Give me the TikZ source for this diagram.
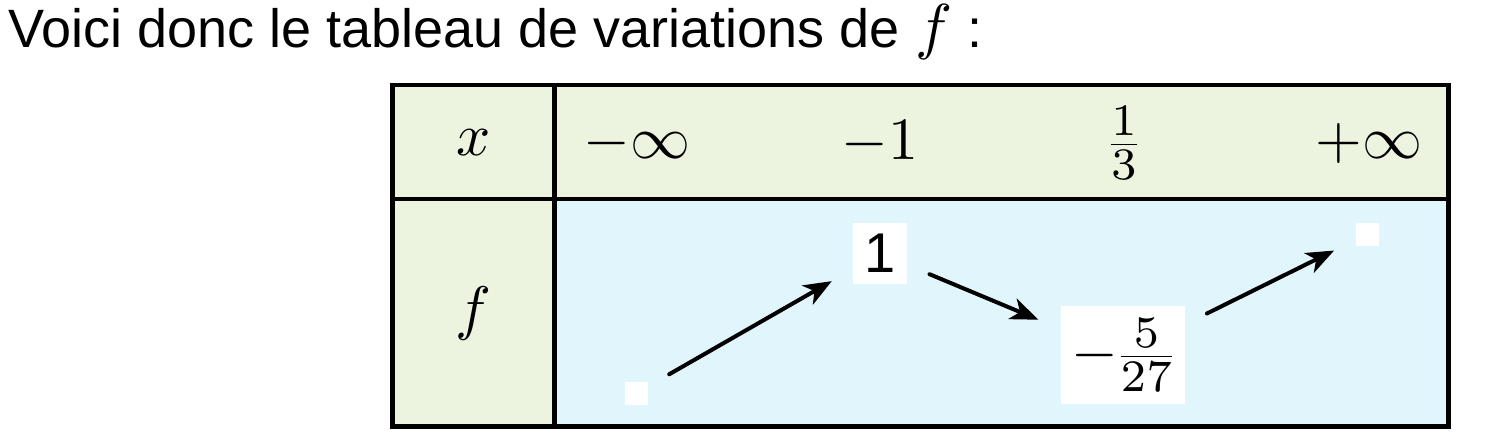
\RequirePackage{fix-cm}
\documentclass[tikz,border=0pt]{standalone}
\usepackage[no-math]{fontspec}
\newfontfamily\headfont{Liberation Sans}
\DeclareFontShape{OT1}{cmr}{m}{n}{<-24>cmr7 <24->cmr10}{}
\DeclareFontShape{OML}{cmm}{m}{it}{<-24>cmmi7 <24->cmmi10}{}
\DeclareFontShape{OMS}{cmsy}{m}{n}{<-24>cmsy7 <24->cmsy10}{}
\DeclareMathSizes{30}{30}{22.5}{16}
\DeclareMathSizes{31}{31}{23}{16}
\usetikzlibrary{arrows.meta}
\definecolor{hdrgreen}{RGB}{236,244,224}
\definecolor{bodyblue}{RGB}{224,246,252}
\tikzset{
  tableline/.style={line width=2.4pt, line cap=rect},
  mathtxt/.style={font=\fontsize{30}{36}\selectfont, inner sep=0pt},
  valbox/.style={fill=white, inner sep=0pt},
  valsq/.style={fill=white, inner sep=0pt, minimum size=11.5pt},
  varrow/.style={line width=2pt, line cap=round,
    -{Stealth[length=14pt, width=11pt, inset=4pt]},
    shorten <=12pt, shorten >=12pt}
}
\begin{document}
\begin{tikzpicture}[x=0.5pt,y=-0.5pt]
\useasboundingbox (0,0) rectangle (1502,440);
% title
\node[anchor=base west, inner sep=0pt] (title) at (8,47)
  {\headfont\fontsize{27}{33}\selectfont Voici donc le tableau de variations de {\fontsize{31}{36}\selectfont$f$} :};
% backgrounds
\fill[hdrgreen] (392.5,85) rectangle (1448.5,199);
\fill[hdrgreen] (392.5,199) rectangle (554.5,426.5);
\fill[bodyblue] (554.5,199) rectangle (1448.5,426.5);
\draw[tableline] (392.5,85) rectangle (1448.5,426.5);
\draw[tableline] (392.5,199) -- (1448.5,199);
\draw[tableline] (554.5,85) -- (554.5,426.5);
% labels
\node[mathtxt] (xlab) at (474,143) {$x$};
\node[mathtxt] (flab) at (473,313) {$f$};
\node[mathtxt] (xa) at (637,143) {$-\infty$};
\node[mathtxt] (xb) at (880,143) {$-1$};
\node[mathtxt] (xc) at (1124,143) {$\frac{1}{3}$};
\node[mathtxt] (xd) at (1369,143) {$+\infty$};
% values
\node[valsq] (v0) at (636.5,393) {};
\node[valbox, minimum width=27pt, minimum height=30.5pt,
      font=\headfont\fontsize{28}{34}\selectfont] (v1) at (880,253.5) {1};
\node[valbox, minimum width=62pt, minimum height=49pt,
      font=\fontsize{30}{36}\selectfont] (v2) at (1123,355) {$-\frac{5}{27}$};
\node[valsq] (v3) at (1367.5,234) {};
% arrows
\draw[varrow] (v0) -- (v1);
\draw[varrow] (v1) -- (v2);
\draw[varrow] (v2) -- (v3);
\end{tikzpicture}
\end{document}
